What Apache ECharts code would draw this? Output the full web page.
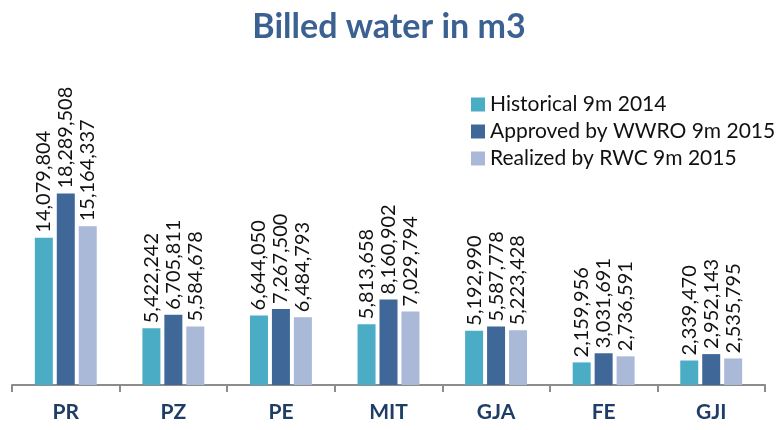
<!DOCTYPE html>
<html>
<head>
<meta charset="utf-8">
<script src="https://cdn.jsdelivr.net/npm/echarts@6/dist/echarts.min.js"></script>
<style>
  html, body { margin: 0; padding: 0; background: #fff; }
  #chart { width: 778px; height: 430px; }
</style>
</head>
<body>
<div id="chart"></div>
<script>
const categories = ['PR', 'PZ', 'PE', 'MIT', 'GJA', 'FE', 'GJI']
const historical = [14079804, 5422242, 6644050, 5813658, 5192990, 2159956, 2339470]
const approved = [18289508, 6705811, 7267500, 8160902, 5587778, 3031691, 2952143]
const realized = [15164337, 5584678, 6484793, 7029794, 5223428, 2736591, 2535795]
const seriesNames = ['Historical 9m 2014', 'Approved by WWRO 9m 2015', 'Realized by RWC 9m 2015']
const colors = ['#4bacc6', '#3f6898', '#aab9d8']

const font = 'Lato, "Open Sans", sans-serif'
const fmt = v => v.toLocaleString('en-US')

const makeSeries = (name, data, color) => ({
  name,
  type: 'bar',
  data,
  barWidth: 18,
  barGap: '22%',
  itemStyle: { color },
  label: {
    show: true,
    position: 'top',
    rotate: 90,
    align: 'left',
    verticalAlign: 'middle',
    distance: 5,
    color: '#111',
    fontFamily: font,
    fontSize: 20,
    formatter: p => fmt(p.value)
  }
})

const chart = echarts.init(document.getElementById('chart'))
chart.setOption({
  animation: false,
  title: {
    text: 'Billed water in m3',
    left: 'center',
    top: 5,
    textStyle: { color: '#3b6193', fontSize: 34, fontWeight: 'bold', fontFamily: font }
  },
  legend: {
    orient: 'vertical',
    left: 466,
    top: 89,
    itemWidth: 14,
    itemHeight: 14,
    itemGap: 6,
    icon: 'rect',
    textStyle: { fontSize: 21, color: '#111', fontFamily: font },
    data: seriesNames
  },
  grid: { left: 12, right: 13, top: 71, bottom: 45 },
  xAxis: {
    type: 'category',
    data: categories,
    axisLine: { lineStyle: { color: '#8c8c8c', width: 2 } },
    axisTick: { show: true, length: 7, lineStyle: { color: '#8c8c8c', width: 2 } },
    axisLabel: { color: '#1f3d66', fontWeight: 'bold', fontSize: 21, fontFamily: font, margin: 17 }
  },
  yAxis: {
    type: 'value',
    min: 0,
    max: 30000000,
    show: false,
    splitLine: { show: false }
  },
  series: [
    makeSeries(seriesNames[0], historical, colors[0]),
    makeSeries(seriesNames[1], approved, colors[1]),
    makeSeries(seriesNames[2], realized, colors[2])
  ]
})
</script>
</body>
</html>
